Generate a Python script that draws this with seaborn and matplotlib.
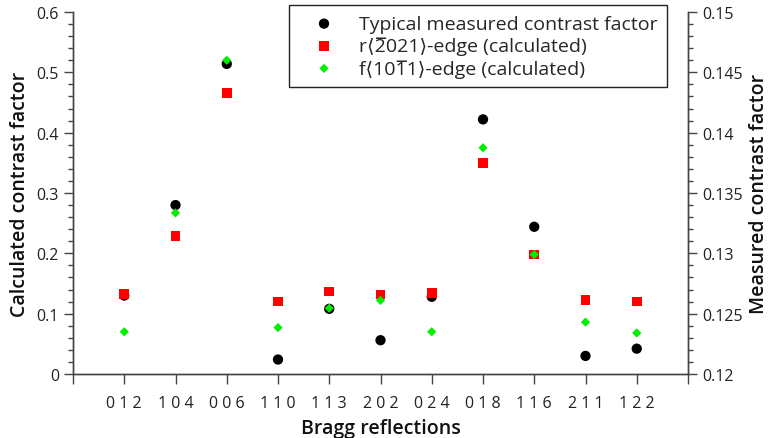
import matplotlib
matplotlib.use("Agg")
import matplotlib.pyplot as plt
from matplotlib.ticker import MultipleLocator, FixedLocator, FixedFormatter, FuncFormatter
import seaborn as sns
import pandas as pd

# Bragg reflections (hkl) and their positions on the x axis
reflections = ["0 1 2", "1 0 4", "0 0 6", "1 1 0", "1 1 3", "2 0 2",
               "0 2 4", "0 1 8", "1 1 6", "2 1 1", "1 2 2"]
positions = list(range(1, len(reflections) + 1))

# Typical measured contrast factor (right axis)
measured = [0.1265, 0.1340, 0.1457, 0.1212, 0.1254, 0.1228,
            0.1264, 0.1411, 0.1322, 0.1215, 0.1221]
# Calculated contrast factors (left axis)
r_edge = [0.133, 0.229, 0.466, 0.120, 0.137, 0.132,
          0.134, 0.350, 0.198, 0.123, 0.120]
f_edge = [0.070, 0.267, 0.520, 0.077, 0.109, 0.122,
          0.070, 0.375, 0.198, 0.086, 0.068]

df = pd.DataFrame({"pos": positions, "measured": measured,
                   "r_edge": r_edge, "f_edge": f_edge})

sns.set_style("ticks")
plt.rcParams["font.family"] = ["Open Sans", "DejaVu Sans"]

fig = plt.figure(figsize=(7.71, 4.39), dpi=100)
ax = fig.add_axes([73 / 771, 1 - 375 / 439, (688 - 73) / 771, (375 - 13) / 439])
ax2 = ax.twinx()

# measured values sit underneath the calculated ones
ax.set_zorder(ax2.get_zorder() + 1)
ax.patch.set_visible(False)

sns.scatterplot(data=df, x="pos", y="measured", ax=ax2, color="black",
                marker="o", s=55, edgecolor="none",
                label="Typical measured contrast factor", legend=False)
sns.scatterplot(data=df, x="pos", y="r_edge", ax=ax, color="#ff0000",
                marker="s", s=48, edgecolor="none",
                label="r⟨2̅021⟩-edge (calculated)", legend=False)
sns.scatterplot(data=df, x="pos", y="f_edge", ax=ax, color="#00ee00",
                marker="D", s=22, edgecolor="none",
                label="f⟨101̅1⟩-edge (calculated)", legend=False)

ax.set_xlim(0, 12)
ax.set_ylim(0, 0.6)
ax2.set_ylim(0.12, 0.15)

ax.xaxis.set_major_locator(FixedLocator(list(range(0, 13))))
ax.xaxis.set_major_formatter(FixedFormatter([""] + reflections + [""]))
ax.yaxis.set_major_locator(MultipleLocator(0.1))
ax.yaxis.set_minor_locator(MultipleLocator(0.02))
ax2.yaxis.set_major_locator(MultipleLocator(0.005))
ax2.yaxis.set_minor_locator(MultipleLocator(0.001))

plain = FuncFormatter(lambda v, _: f"{round(v, 4):g}")
ax.yaxis.set_major_formatter(plain)
ax2.yaxis.set_major_formatter(plain)

spine_col = "#444444"
for a in (ax, ax2):
    a.spines["top"].set_visible(False)
    for s in a.spines.values():
        s.set_color(spine_col)
        s.set_linewidth(1.0)
    a.tick_params(which="major", length=6.5, width=1.0, color=spine_col,
                  labelsize=11.5, labelcolor="#222222", direction="out")
    a.tick_params(which="minor", length=3.5, width=1.0, color=spine_col,
                  direction="out")
ax.tick_params(axis="x", length=7, pad=8, labelsize=11.5)

ax.set_xlabel("Bragg reflections", fontsize=14, fontweight="semibold",
              color="#111111", labelpad=5)
ax.set_ylabel("Calculated contrast factor", fontsize=14, fontweight="semibold",
              color="#111111", labelpad=5)
ax2.set_ylabel("Measured contrast factor", fontsize=14, fontweight="semibold",
               color="#111111", labelpad=5)

h1, l1 = ax2.get_legend_handles_labels()
h2, l2 = ax.get_legend_handles_labels()
leg = ax.legend(h1 + h2, l1 + l2, loc="upper left",
                bbox_to_anchor=((289 - 73) / 615, 1 + 7 / 362),
                fontsize=14, frameon=True, fancybox=False,
                edgecolor="#222222", framealpha=1, borderpad=0.5,
                handlelength=2.6, handletextpad=0.5, labelspacing=0.2,
                borderaxespad=0)
leg.get_frame().set_linewidth(1.0)

fig.savefig("out.png", dpi=100)
